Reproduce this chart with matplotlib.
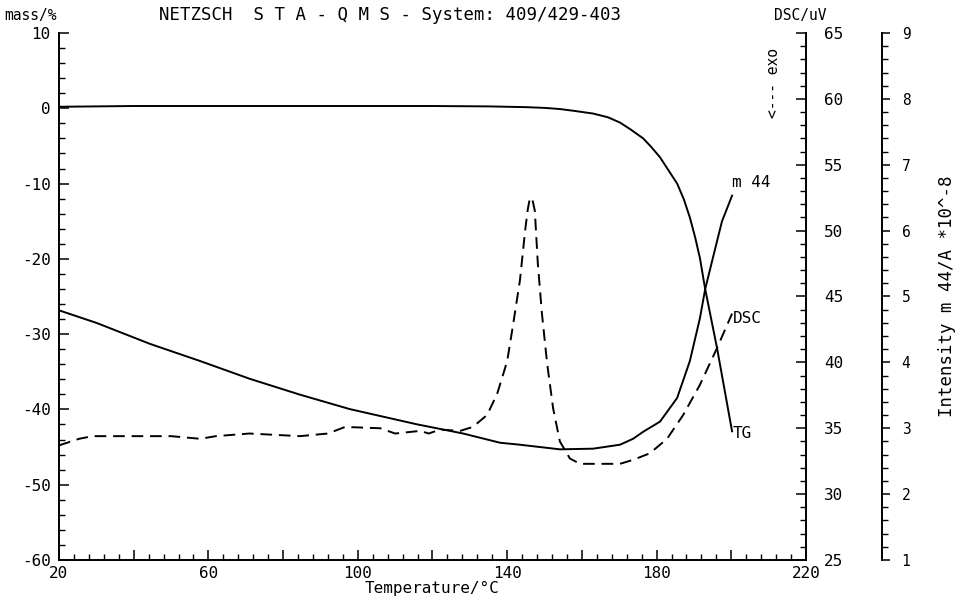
import numpy as np
import matplotlib
matplotlib.use("Agg")
import matplotlib.pyplot as plt
from matplotlib.ticker import MultipleLocator, FuncFormatter

# TG curve (mass / %)
tg_T = [20, 40, 60, 80, 100, 120, 135, 145, 150, 154.1, 158, 163.0, 167, 170.2, 173,
        176.4, 178.5, 180.9, 183, 185.5, 187.3, 188.9, 190.3, 191.6, 193.0, 196.2, 200.2]
tg_mass = [0.2, 0.3, 0.3, 0.3, 0.3, 0.3, 0.25, 0.15, 0.05, -0.1, -0.35, -0.7, -1.2, -1.9,
           -2.8, -4.0, -5.1, -6.5, -8.1, -10.0, -12.1, -14.5, -17.1, -19.9, -24.0,
           -31.9, -42.9]

# DSC curve (uV)
dsc_T = [20, 25.4, 29, 40, 50, 57.8, 62, 71, 84.5, 92, 96.6, 106, 110, 116.7, 119, 122,
         127.4, 130.8, 134.6, 137.3, 140, 141.6, 143.4, 144.8, 145.5, 146.1, 146.8,
         147.4, 148.2, 149.3, 150.7, 152.3, 154.1, 156.8, 159.5, 164.8, 170.2, 173.7,
         178.2, 182.8, 187.1, 191.6, 196.2, 200.2]
dsc_uV = [33.7, 34.2, 34.4, 34.4, 34.4, 34.2, 34.4, 34.6, 34.4, 34.6, 35.1, 35.0, 34.6,
          34.8, 34.6, 34.9, 34.8, 35.1, 36.0, 37.6, 40.1, 42.9, 46.2, 50.0, 51.6, 52.5,
          52.3, 51.5, 47.5, 43.7, 39.9, 36.5, 34.0, 32.7, 32.3, 32.3, 32.3, 32.6, 33.1,
          34.2, 36.0, 38.3, 41.1, 43.7]

# Ion current m 44 (A * 10^-8)
m44_T = [20, 30, 44.4, 57.8, 71.1, 84.5, 97.9, 115.8, 128.2, 138.1, 143.4, 154.1, 163.0,
         170.2, 173.7, 176.5, 180.9, 185.5, 188.9, 191.6, 193.0, 195.0, 197.5, 200.2]
m44_int = [4.79, 4.60, 4.28, 4.02, 3.75, 3.51, 3.29, 3.06, 2.92, 2.78, 2.75, 2.68, 2.69,
           2.75, 2.84, 2.95, 3.10, 3.46, 4.02, 4.67, 5.11, 5.57, 6.14, 6.53]

mono = "DejaVu Sans Mono"
plt.rcParams["font.family"] = mono
plt.rcParams["axes.unicode_minus"] = False
fs = 11.5

fig = plt.figure(figsize=(9.64, 6.03), dpi=100)
ax = fig.add_axes([0.0612, 0.0713, 0.7749, 0.8740])
ax2 = ax.twinx()
ax3 = ax.twinx()

ax.plot(tg_T, tg_mass, color="black", lw=1.4)
ax2.plot(dsc_T, dsc_uV, color="black", lw=1.4, ls=(0, (6, 3.5)))
ax3.plot(m44_T, m44_int, color="black", lw=1.4)

ax.set_xlim(20, 220)
ax.set_ylim(-60, 10)
ax2.set_ylim(25, 65)
ax3.set_ylim(1, 9)

for a in (ax, ax2, ax3):
    a.spines["top"].set_visible(False)
    for s in a.spines.values():
        s.set_linewidth(1.4)
ax2.spines["left"].set_visible(False)
ax3.spines["left"].set_visible(False)
ax2.spines["bottom"].set_visible(False)
ax3.spines["bottom"].set_visible(False)
ax.spines["right"].set_visible(False)
ax3.spines["right"].set_position(("axes", 1.102))

# x axis
ax.xaxis.set_major_locator(MultipleLocator(20))
ax.xaxis.set_minor_locator(MultipleLocator(4))
ax.xaxis.set_major_formatter(FuncFormatter(lambda v, p: "%d" % v if int(round(v)) % 40 == 20 else ""))
ax.tick_params(axis="x", which="major", direction="in", length=7, width=1.1, labelsize=fs, pad=4)
ax.tick_params(axis="x", which="minor", direction="in", length=4, width=1.0)
ax.set_xlabel("Temperature/°C", fontsize=fs, labelpad=0)

# mass axis
ax.yaxis.set_major_locator(MultipleLocator(10))
ax.yaxis.set_minor_locator(MultipleLocator(2))
ax.tick_params(axis="y", which="major", direction="in", length=7, width=1.1, labelsize=fs, pad=6)
ax.tick_params(axis="y", which="minor", direction="in", length=4, width=1.0)

# DSC axis
ax2.yaxis.set_major_locator(MultipleLocator(5))
ax2.yaxis.set_minor_locator(MultipleLocator(1))
ax2.tick_params(axis="y", which="major", direction="in", length=7, width=1.1, labelsize=fs, pad=13)
ax2.tick_params(axis="y", which="minor", direction="in", length=4, width=1.0)

# m44 axis
ax3.yaxis.set_major_locator(MultipleLocator(1))
ax3.yaxis.set_minor_locator(MultipleLocator(0.2))
ax3.tick_params(axis="y", which="major", direction="out", length=6, width=1.1, labelsize=fs - 1, pad=8)
ax3.tick_params(axis="y", which="minor", direction="out", length=4, width=1.0)
ax3.set_ylabel("Intensity m 44/A *10^-8", fontsize=12.5, labelpad=20)

# curve labels
ax.text(200.3, -9.9, "m 44", fontsize=fs, ha="left", va="center")
ax.text(200.3, -27.9, "DSC", fontsize=fs, ha="left", va="center")
ax.text(200.3, -43.2, "TG", fontsize=fs, ha="left", va="center")

fig.text(0.004, 0.975, "mass/%", fontsize=fs - 1, ha="left", va="center")
fig.text(0.83, 0.975, "DSC/uV", fontsize=fs - 1, ha="center", va="center")
fig.text(0.405, 0.975, "NETZSCH  S T A - Q M S - System: 409/429-403",
         fontsize=12.5, ha="center", va="center")
fig.text(0.802, 0.862, "<--- exo", fontsize=fs - 1, rotation=90, ha="center", va="center")

fig.savefig("out.png", dpi=100)
